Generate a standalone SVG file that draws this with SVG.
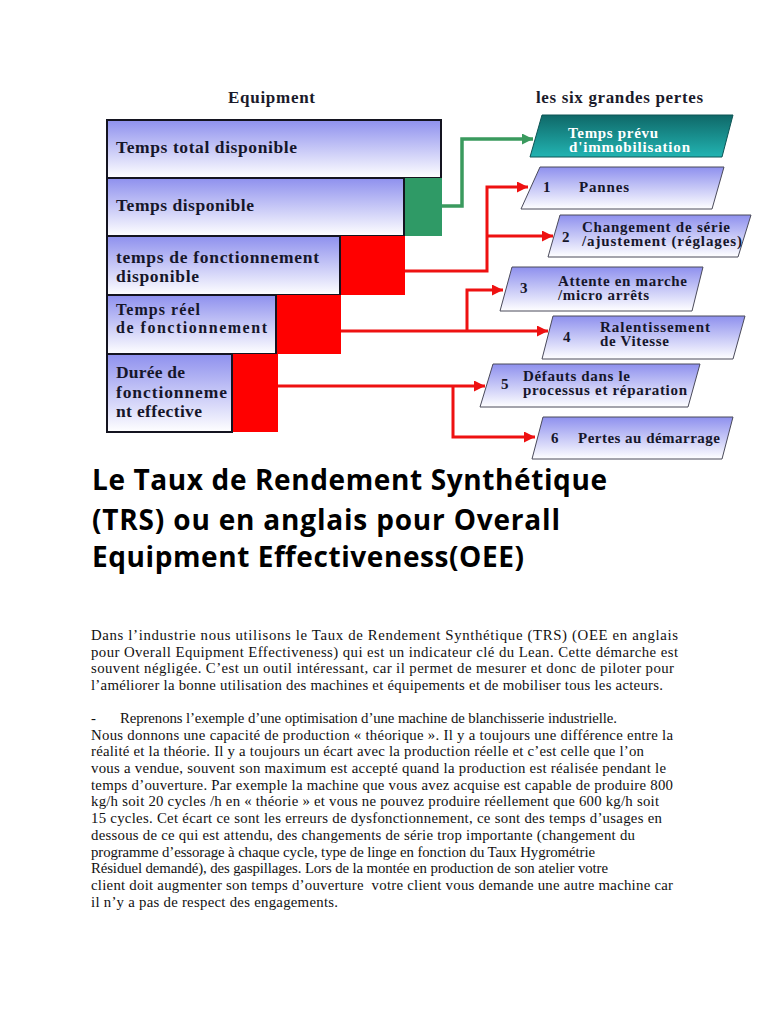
<svg xmlns="http://www.w3.org/2000/svg" width="768" height="1024" viewBox="0 0 768 1024">
<defs>
<linearGradient id="gBox" x1="0" y1="0" x2="0" y2="1">
<stop offset="0" stop-color="#8e90ee"/>
<stop offset="1" stop-color="#ffffff"/>
</linearGradient>
<linearGradient id="gTeal" x1="0" y1="0" x2="0" y2="1">
<stop offset="0" stop-color="#0f6868"/>
<stop offset="1" stop-color="#22b4b2"/>
</linearGradient>
<marker id="arrR" markerUnits="userSpaceOnUse" markerWidth="12" markerHeight="11" refX="11" refY="5.5" orient="auto">
<path d="M0,0 L11,5.5 L0,11 z" fill="#ee1111"/>
</marker>
<marker id="arrG" markerUnits="userSpaceOnUse" markerWidth="12" markerHeight="11" refX="11" refY="5.5" orient="auto">
<path d="M0,0 L11,5.5 L0,11 z" fill="#3a9a5e"/>
</marker>
<style>
.box{fill:url(#gBox);stroke:#141420;stroke-width:2}
.para{fill:url(#gBox);stroke:#4a4a5a;stroke-width:1}
.lbl{font-family:"Liberation Serif","DejaVu Serif",serif;font-weight:bold;font-size:17.5px;fill:#16162a}
.sm{font-size:16px}
.pl{font-family:"Liberation Serif","DejaVu Serif",serif;font-weight:bold;font-size:15px;fill:#16162a}
.wt{fill:#ffffff}
.hd{font-family:"Liberation Serif","DejaVu Serif",serif;font-weight:bold;font-size:17px;fill:#1a1a2a}
.red{fill:#ff0000}
.grn{fill:#2f9a66}
.cr{fill:none;stroke:#ee1111;stroke-width:3}
.cg{fill:none;stroke:#3a9a5e;stroke-width:3.5}
.title{font-family:"Open Sans","Noto Sans",sans-serif;font-weight:bold;font-size:28px;fill:#000}
.body{font-family:"Liberation Serif","Times New Roman",serif;font-size:14.8px;fill:#111}
</style>
</defs>
<rect width="768" height="1024" fill="#ffffff"/>

<text class="hd" x="228" y="103" textLength="87">Equipment</text>
<text class="hd" x="536" y="103" textLength="167">les six grandes pertes</text>

<g id="connectors">
<path class="cg" d="M442,206 H462 V139 H533" marker-end="url(#arrG)"/>
<path class="cr" d="M405,271 H487 V187 H528" marker-end="url(#arrR)"/>
<path class="cr" d="M487,236 H553" marker-end="url(#arrR)"/>
<path class="cr" d="M341,331 H548" marker-end="url(#arrR)"/>
<path class="cr" d="M467,331 V290 H503" marker-end="url(#arrR)"/>
<path class="cr" d="M278,386 H485" marker-end="url(#arrR)"/>
<path class="cr" d="M453,386 V437 H535" marker-end="url(#arrR)"/>
</g>

<g id="box-total">
<rect class="box" x="107" y="120" width="334" height="58"/>
<text class="lbl" x="116" y="153" textLength="181">Temps total disponible</text>
</g>
<g id="box-disponible">
<rect class="grn" x="404" y="178" width="38" height="58"/>
<rect class="box" x="107" y="178" width="297" height="58"/>
<text class="lbl" x="116" y="211" textLength="138">Temps disponible</text>
</g>
<g id="box-fonctionnement">
<rect class="red" x="340" y="236" width="65" height="59"/>
<rect class="box" x="107" y="236" width="233" height="59"/>
<text class="lbl" x="116" y="263" textLength="203">temps de fonctionnement</text>
<text class="lbl" x="116" y="282" textLength="83">disponible</text>
</g>
<g id="box-reel">
<rect class="red" x="276" y="295" width="65" height="59"/>
<rect class="box" x="107" y="295" width="169" height="59"/>
<text class="lbl sm" x="116" y="315" textLength="84">Temps réel</text>
<text class="lbl sm" x="116" y="333" textLength="151">de fonctionnement</text>
</g>
<g id="box-effective">
<rect class="red" x="232" y="354" width="46" height="78"/>
<rect class="box" x="107" y="354" width="125" height="78"/>
<text class="lbl" x="116" y="378" textLength="69">Durée de</text>
<text class="lbl" x="116" y="398" textLength="111">fonctionneme</text>
<text class="lbl" x="116" y="417" textLength="86">nt effective</text>
</g>

<g id="perte-immobilisation">
<polygon points="542,115 733,115 722,157 530,157" fill="url(#gTeal)" stroke="#0d5555" stroke-width="1"/>
<text class="pl wt" x="568" y="138" textLength="90">Temps prévu</text>
<text class="pl wt" x="569" y="152" textLength="121">d'immobilisation</text>
</g>
<g id="perte-1">
<polygon class="para" points="540,167 724,167 712,209 521,209"/>
<text class="pl" x="543" y="192">1</text>
<text class="pl" x="579" y="192" textLength="50">Pannes</text>
</g>
<g id="perte-2">
<polygon class="para" points="560,215 751,215 738,257 548,257"/>
<text class="pl" x="562" y="242">2</text>
<text class="pl" x="582" y="232" textLength="148">Changement de série</text>
<text class="pl" x="582" y="246" textLength="160">/ajustement (réglages)</text>
</g>
<g id="perte-3">
<polygon class="para" points="512,267 703,267 692,311 500,311"/>
<text class="pl" x="520" y="293">3</text>
<text class="pl" x="558" y="286" textLength="129">Attente en marche</text>
<text class="pl" x="558" y="300" textLength="91">/micro arrêts</text>
</g>
<g id="perte-4">
<polygon class="para" points="553,316 745,316 733,359 542,359"/>
<text class="pl" x="563" y="342">4</text>
<text class="pl" x="600" y="332" textLength="110">Ralentissement</text>
<text class="pl" x="600" y="346" textLength="69">de Vitesse</text>
</g>
<g id="perte-5">
<polygon class="para" points="493,364 700,364 688,407 480,407"/>
<text class="pl" x="501" y="389">5</text>
<text class="pl" x="523" y="381" textLength="107">Défauts dans le</text>
<text class="pl" x="523" y="395" textLength="164">processus et réparation</text>
</g>
<g id="perte-6">
<polygon class="para" points="543,417 733,417 722,459 532,459"/>
<text class="pl" x="551" y="443">6</text>
<text class="pl" x="578" y="443" textLength="142">Pertes au démarrage</text>
</g>

<text class="title" x="92" y="490" textLength="515">Le Taux de Rendement Synthétique</text>
<text class="title" x="92" y="530" textLength="468">(TRS) ou en anglais pour Overall</text>
<text class="title" x="92" y="567" textLength="432">Equipment Effectiveness(OEE)</text>

<g id="texte">
<text class="body" x="91" y="640" textLength="587">Dans l’industrie nous utilisons le Taux de Rendement Synthétique (TRS) (OEE en anglais</text>
<text class="body" x="91" y="657" textLength="587">pour Overall Equipment Effectiveness) qui est un indicateur clé du Lean. Cette démarche est</text>
<text class="body" x="91" y="673" textLength="583">souvent négligée. C’est un outil intéressant, car il permet de mesurer et donc de piloter pour</text>
<text class="body" x="91" y="690" textLength="572">l’améliorer la bonne utilisation des machines et équipements et de mobiliser tous les acteurs.</text>
<text class="body" x="91" y="723">-</text>
<text class="body" x="120" y="723" textLength="497">Reprenons l’exemple d’une optimisation d’une machine de blanchisserie industrielle.</text>
<text class="body" x="91" y="740" textLength="582">Nous donnons une capacité de production « théorique ». Il y a toujours une différence entre la</text>
<text class="body" x="91" y="756" textLength="553">réalité et la théorie. Il y a toujours un écart avec la production réelle et c’est celle que l’on</text>
<text class="body" x="91" y="773" textLength="575">vous a vendue, souvent son maximum est accepté quand la production est réalisée pendant le</text>
<text class="body" x="91" y="790" textLength="582">temps d’ouverture. Par exemple la machine que vous avez acquise est capable de produire 800</text>
<text class="body" x="91" y="806" textLength="568">kg/h soit 20 cycles /h en « théorie » et vous ne pouvez produire réellement que 600 kg/h soit</text>
<text class="body" x="91" y="823" textLength="571">15 cycles. Cet écart ce sont les erreurs de dysfonctionnement, ce sont des temps d’usages en</text>
<text class="body" x="91" y="840" textLength="544">dessous de ce qui est attendu, des changements de série trop importante (changement du</text>
<text class="body" x="91" y="857" textLength="504">programme d’essorage à chaque cycle, type de linge en fonction du Taux Hygrométrie</text>
<text class="body" x="91" y="873" textLength="517">Résiduel demandé), des gaspillages. Lors de la montée en production de son atelier votre</text>
<text class="body" x="91" y="890" textLength="582">client doit augmenter son temps d’ouverture&#160; votre client vous demande une autre machine car</text>
<text class="body" x="91" y="907" textLength="247">il n’y a pas de respect des engagements.</text>
</g>
</svg>
